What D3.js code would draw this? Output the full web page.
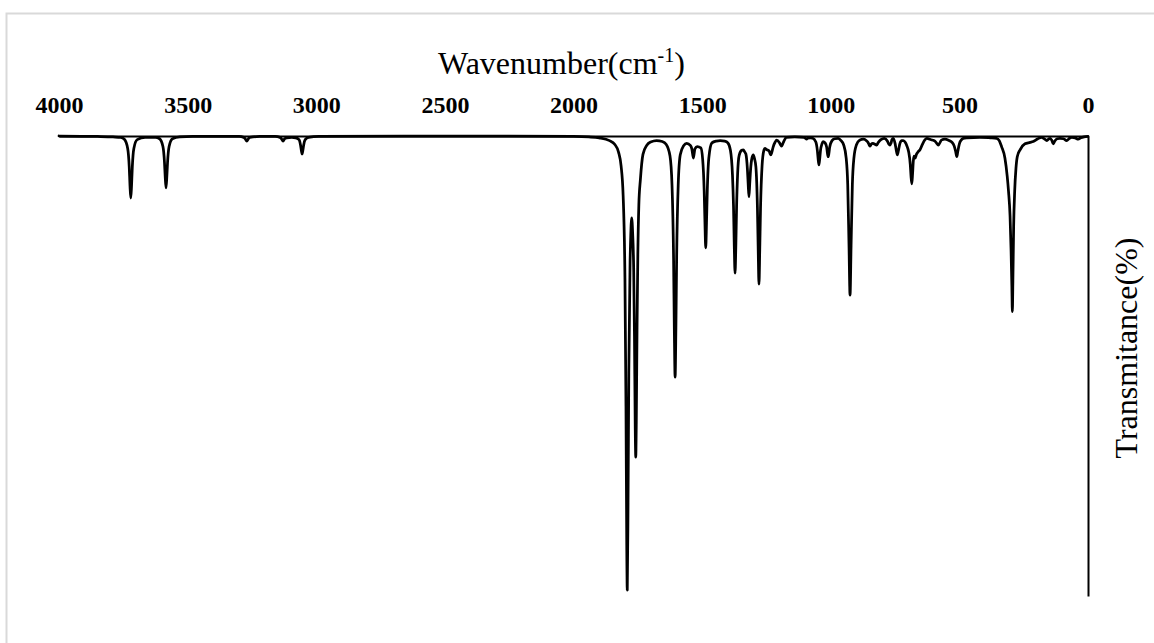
<!DOCTYPE html>
<html>
<head>
<meta charset="utf-8">
<script src="https://cdn.jsdelivr.net/npm/d3@7"></script>
<style>
  html, body { margin: 0; padding: 0; background: #fff; }
  svg { display: block; }
  text { font-family: "Times New Roman", "Liberation Serif", serif; fill: #000; }
</style>
</head>
<body>
<svg id="chart" width="1154" height="643"></svg>
<script>
// IR spectrum: wavenumber (cm-1) against transmittance (%)
const wavenumbers = [
  4000, 3850, 3790, 3760, 3746, 3733, 3727, 3724, 3721, 3718, 3715, 3709, 3696, 3665,
  3625, 3609, 3596, 3590, 3587, 3584, 3581, 3578, 3572, 3559, 3530, 3480,
  3300, 3282, 3276, 3270, 3264, 3258, 3220,
  3160, 3141, 3135, 3129, 3123, 3115, 3095,
  3080, 3067, 3061, 3058, 3055, 3052, 3049, 3043, 3030, 2990,
  2500, 2000, 1940, 1900, 1860, 1840, 1825, 1815, 1807, 1800, 1796, 1793, 1791,
  1788, 1785, 1780, 1778, 1774, 1770, 1766, 1763, 1760, 1758, 1756, 1753, 1750,
  1746, 1740, 1730, 1715, 1700, 1677, 1655,
  1640, 1625, 1617, 1611, 1608, 1605, 1602, 1599, 1593, 1585, 1572, 1560,
  1545, 1540, 1534, 1528, 1519, 1505, 1498, 1492, 1489, 1486, 1483, 1480, 1474, 1462,
  1445, 1430, 1412, 1400, 1390, 1382, 1378, 1375, 1372, 1369, 1366, 1362, 1356,
  1346, 1340, 1334, 1330, 1324, 1321, 1318, 1315, 1312, 1306, 1301,
  1296, 1291, 1285, 1282, 1279, 1276, 1273, 1267, 1260, 1256,
  1248, 1240, 1236, 1233, 1230, 1224, 1216, 1210, 1200, 1194, 1191, 1188, 1182, 1172,
  1140, 1105, 1098, 1094, 1090, 1080, 1070, 1058, 1052, 1049, 1046, 1043, 1040, 1034, 1030,
  1022, 1016, 1013, 1010, 1007, 1004, 995, 985, 971,
  960, 950, 940, 934, 929, 925, 921, 916, 910, 900, 888, 873,
  860, 855, 850, 847, 843, 836, 828, 822, 815, 805, 792,
  780, 774, 770, 766, 762, 757, 750, 745, 741, 737, 731, 724, 718,
  710, 705, 697, 691, 688, 685, 682, 679, 676, 672, 667, 660, 653, 645, 636, 627,
  610, 595, 588, 582, 576, 570, 556, 540, 530, 520, 514, 510, 506, 500, 490, 485,
  470, 420, 380, 355, 345, 336, 323, 314, 309, 303, 299, 296, 294, 292, 289, 285, 280, 275,
  264, 245, 225, 213, 195, 181, 170, 160, 152, 147, 141, 135, 129, 120, 109,
  95, 83, 72, 63, 50, 38, 28, 15, 0
];

const transmittance = [
  100, 99.9, 99.8, 99.7, 99.3, 97.3, 93.3, 89.2, 86.5, 89.2, 93.3, 97.3, 99.2, 99.7,
  99.7, 99.4, 97.7, 94.3, 91.0, 88.7, 91.0, 94.3, 97.7, 99.4, 99.8, 99.9,
  99.9, 99.7, 99.4, 98.9, 99.4, 99.7, 99.9,
  99.9, 99.7, 99.4, 98.9, 99.4, 99.6, 99.7,
  99.6, 99.2, 98.0, 96.9, 96.1, 96.9, 98.0, 99.2, 99.7, 99.9,
  100, 99.9, 99.8, 99.6, 99.0, 98.2, 96.5, 93.5, 87.0, 68.9, 41.3, 11.1, 1.3,
  20.2, 48.5, 73.0, 77.3, 82.2, 78.8, 70.9, 56.5, 36.5, 30.2, 37.4, 58.3, 73.9,
  85.0, 90.5, 96.0, 98.0, 98.7, 99.0, 98.8,
  98.2, 95.7, 89.2, 73.5, 57.8, 47.6, 58.0, 73.7, 89.3, 95.9, 97.9, 98.4,
  97.9, 97.2, 95.2, 97.2, 97.7, 97.4, 95.0, 88.0, 81.1, 75.7, 81.1, 88.0, 95.2, 98.5,
  98.9, 99.0, 98.9, 98.5, 96.9, 91.5, 84.7, 76.0, 70.2, 76.0, 84.7, 91.8, 95.8,
  96.9, 97.0, 96.5, 96.1, 92.8, 89.6, 86.8, 89.6, 92.4, 95.3, 95.9,
  95.0, 93.3, 84.3, 75.2, 67.8, 75.2, 84.3, 93.5, 96.9, 97.3,
  97.0, 96.8, 96.2, 95.9, 96.3, 97.6, 98.7, 99.1, 98.6, 98.0, 97.8, 98.1, 98.9, 99.7,
  99.8, 99.7, 99.5, 99.3, 99.5, 99.6, 99.5, 98.7, 96.8, 95.0, 93.7, 95.0, 96.8, 98.3, 98.8,
  98.5, 97.6, 96.3, 95.5, 96.3, 97.6, 99.0, 99.4, 99.5,
  99.0, 98.1, 95.2, 89.4, 76.1, 65.4, 76.1, 89.4, 95.2, 98.1, 99.1, 99.3,
  98.9, 98.6, 98.0, 97.8, 98.2, 98.4, 98.2, 98.0, 98.6, 99.2, 99.5,
  98.9, 98.2, 98.0, 98.4, 99.2, 99.5, 98.4, 96.8, 95.9, 96.8, 98.4, 99.0, 99.0,
  98.6, 98.0, 96.5, 93.9, 91.3, 89.6, 91.7, 94.6, 95.6, 95.2, 96.0, 96.6, 97.0, 98.0, 99.0, 99.5,
  99.2, 98.9, 98.4, 98.0, 98.5, 99.1, 99.3, 99.0, 98.7, 97.8, 96.5, 95.5, 96.7, 98.3, 99.3, 99.5,
  99.6, 99.7, 99.6, 99.5, 99.0, 97.7, 95.2, 91.2, 88.0, 82.6, 75.0, 67.4, 61.8, 68.5, 80.4, 88.0, 93.0, 95.5,
  97.0, 98.3, 98.6, 98.8, 99.4, 99.7, 99.4, 99.0, 99.4, 99.5, 99.1, 98.3, 98.9, 99.4, 99.5,
  99.4, 99.0, 99.5, 99.7, 99.6, 99.3, 99.6, 99.8, 99.9
];

const xTicks = [4000, 3500, 3000, 2500, 2000, 1500, 1000, 500, 0];
const xTitle = "Wavenumber(cm";
const xTitleSup = "-1";
const yTitle = "Transmitance(%)";

const svg = d3.select("#chart");

// light frame around the chart area
svg.append("rect")
  .attr("x", 6.5).attr("y", 13.5)
  .attr("width", 1170).attr("height", 660)
  .attr("fill", "none")
  .attr("stroke", "#d9d9d9")
  .attr("stroke-width", 2);

const x = d3.scaleLinear().domain([4000, 0]).range([59, 1088]);
const y = d3.scaleLinear().domain([0, 100]).range([596, 136]);

// wavenumber axis along the top
const xAxis = svg.append("g")
  .attr("transform", `translate(0,${y(100)})`)
  .call(d3.axisTop(x).tickValues(xTicks).tickSize(0).tickPadding(23).tickFormat(d3.format("d")));
xAxis.select(".domain").attr("stroke", "#000").attr("stroke-width", 2);
xAxis.selectAll("text")
  .style("font-family", '"Times New Roman", "Liberation Serif", serif')
  .style("font-size", "24px")
  .style("font-weight", "bold")
  .attr("fill", "#000");

// transmittance axis on the right, no ticks
const yAxis = svg.append("g")
  .attr("transform", `translate(${x(0)},0)`)
  .call(d3.axisRight(y).tickValues([]).tickSizeOuter(0));
yAxis.select(".domain").attr("stroke", "#000").attr("stroke-width", 2);

// spectrum trace
const points = wavenumbers.map((w, i) => [w, transmittance[i]]);
const line = d3.line()
  .x(d => x(d[0]))
  .y(d => y(d[1]))
  .curve(d3.curveMonotoneX);

svg.append("path")
  .datum(points)
  .attr("d", line)
  .attr("fill", "none")
  .attr("stroke", "#000")
  .attr("stroke-width", 2.75)
  .attr("stroke-linejoin", "round")
  .attr("stroke-linecap", "round");

// axis titles
const t = svg.append("text")
  .attr("x", 438).attr("y", 74)
  .style("font-size", "32px");
t.append("tspan").text(xTitle);
t.append("tspan").text(xTitleSup).attr("dy", -12).style("font-size", "20px");
t.append("tspan").text(")").attr("dy", 12);

svg.append("text")
  .attr("transform", "translate(1137,348) rotate(-90)")
  .attr("text-anchor", "middle")
  .style("font-size", "32px")
  .text(yTitle);
</script>
</body>
</html>
